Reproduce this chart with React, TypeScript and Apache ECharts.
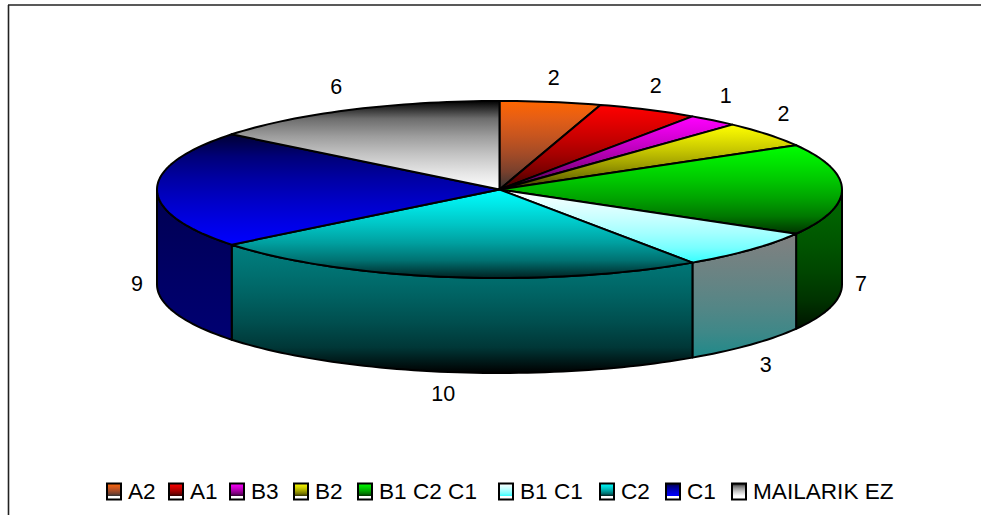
import React, { useEffect, useRef } from "react";
import * as echarts from "echarts";

const categories = ["A2", "A1", "B3", "B2", "B1 C2 C1", "B1 C1", "C2", "C1", "MAILARIK EZ"];
const values = [2, 2, 1, 2, 7, 3, 10, 9, 6];
const topStart = ["#FF6600", "#FF0000", "#FF00FF", "#FFFF00", "#00FF00", "#FFFFFF", "#00FFFF", "#000033", "#000000"];
const topEnd = ["#333333", "#330000", "#330033", "#333300", "#003300", "#33FFFF", "#002222", "#0000FF", "#FFFFFF"];
const sideStart = ["#803300", "#800000", "#800080", "#808000", "#006C00", "#808080", "#008080", "#000050", "#000000"];
const sideEnd = ["#1A1A1A", "#1A0000", "#1A001A", "#1A1A00", "#001400", "#1F8A8A", "#000000", "#000072", "#808080"];

const legendLeft = [106, 168, 229, 293, 357, 498, 599, 665, 731];
const labelNudge = [[0, 0], [-2, -2], [-1, -6], [-1, -5], [-3, -1], [-1, 4], [-2, -2], [2, -1], [-5, -1]];

const FONT = "'Liberation Sans', Arial, sans-serif";
const CX = 499.5;
const CY = 189.5;
const RX = 342.5;
const RY = 88.5;
const DEPTH = 95;
const GAMMA = 1.9;
const total = values.reduce((a, b) => a + b, 0);

function pt(deg: number, dy = 0, grow = 0, growY = 0): number[] {
  const r = (deg * Math.PI) / 180;
  return [CX + (RX + grow) * Math.sin(r), CY - (RY + growY) * Math.cos(r) + dy];
}

function arc(a: number, b: number, dy = 0): number[][] {
  const n = Math.max(2, Math.ceil(Math.abs(b - a) / 1.5));
  const out: number[][] = [];
  for (let i = 0; i <= n; i++) out.push(pt(a + ((b - a) * i) / n, dy));
  return out;
}

// Blend two hex colours in a gamma-lifted space so the bright end dominates, as in the reference.
function blend(c0: string, c1: string, t: number): string {
  const ch = (c: string, k: number) => parseInt(c.slice(1 + k * 2, 3 + k * 2), 16) / 255;
  const parts = [0, 1, 2].map((k) => {
    const v = Math.pow(ch(c0, k), GAMMA) * (1 - t) + Math.pow(ch(c1, k), GAMMA) * t;
    return Math.round(Math.pow(v, 1 / GAMMA) * 255).toString(16).padStart(2, "0");
  });
  return "#" + parts.join("");
}

function stops(c0: string, c1: string, span = 1) {
  return [0, 0.2, 0.4, 0.6, 0.8, 1].map((t) => ({ offset: t * span, color: blend(c0, c1, t) }));
}

function grad(c0: string, c1: string) {
  return { type: "linear", x: 0, y: 0, x2: 0, y2: 1, colorStops: stops(c0, c1) };
}

function swatch(i: number) {
  return {
    type: "linear", x: 0, y: 0, x2: 0, y2: 1,
    colorStops: [
      ...stops(topStart[i], topEnd[i], 0.78),
      { offset: 0.78, color: "#FFFFFF" },
      { offset: 1, color: "#FFFFFF" },
    ],
  };
}

export default function App() {
  const ref = useRef<HTMLDivElement>(null);
  useEffect(() => {
    document.body.style.margin = "0";
    const chart = echarts.init(ref.current!, undefined, { renderer: "svg" });
    let acc = 0;
    const series = values.map((v, i) => {
      const a0 = (acc / total) * 360;
      acc += v;
      const a1 = (acc / total) * 360;
      return {
        type: "custom",
        name: categories[i],
        coordinateSystem: "none",
        data: [[v]],
        itemStyle: { color: topStart[i] },
        renderItem: (_p: any, api: any) => {
          const children: any[] = [];
          const s0 = Math.max(a0, 90);
          const s1 = Math.min(a1, 270);
          if (s1 > s0) {
            children.push({
              type: "polygon",
              shape: { points: [...arc(s0, s1), ...arc(s1, s0, DEPTH)] },
              style: { fill: grad(sideStart[i], sideEnd[i]), stroke: "#000", lineWidth: 2, lineJoin: "round" },
            });
          }
          children.push({
            type: "polygon",
            shape: { points: [[CX, CY], ...arc(a0, a1)] },
            style: { fill: grad(topStart[i], topEnd[i]), stroke: "#000", lineWidth: 2, lineJoin: "round" },
          });
          const mid = (a0 + a1) / 2;
          const front = Math.cos((mid * Math.PI) / 180) <= 1e-9;
          const p = pt(mid, front ? DEPTH : 0, 22, 24);
          children.push({
            type: "text",
            style: {
              text: String(api.value(0)),
              x: p[0] + labelNudge[i][0],
              y: p[1] + labelNudge[i][1],
              fill: "#000",
              font: `21.5px ${FONT}`,
              textAlign: "center",
              textVerticalAlign: "middle",
            },
          });
          return { type: "group", children };
        },
      };
    });
    chart.setOption({
      animation: false,
      backgroundColor: "#fff",
      legend: categories.map((name, i) => ({
        left: legendLeft[i],
        top: 480,
        padding: 0,
        itemWidth: 14,
        itemHeight: 16,
        selectedMode: false,
        icon: "rect",
        textStyle: { color: "#000", fontSize: 22.6, fontFamily: FONT, padding: [0, 0, 10, 2] },
        data: [{ name, icon: "rect", itemStyle: { color: swatch(i), borderColor: "#000", borderWidth: 2 } }],
      })),
      graphic: [
        { type: "line", shape: { x1: 8.5, y1: 5, x2: 8.5, y2: 515 }, style: { stroke: "#222", lineWidth: 1.6 } },
        { type: "line", shape: { x1: 8, y1: 5, x2: 981, y2: 5 }, style: { stroke: "#222", lineWidth: 1.6 } },
      ],
      series,
    });
    return () => chart.dispose();
  }, []);
  return <div ref={ref} style={{ position: "absolute", left: 0, top: 0, width: 981, height: 515 }} />;
}
